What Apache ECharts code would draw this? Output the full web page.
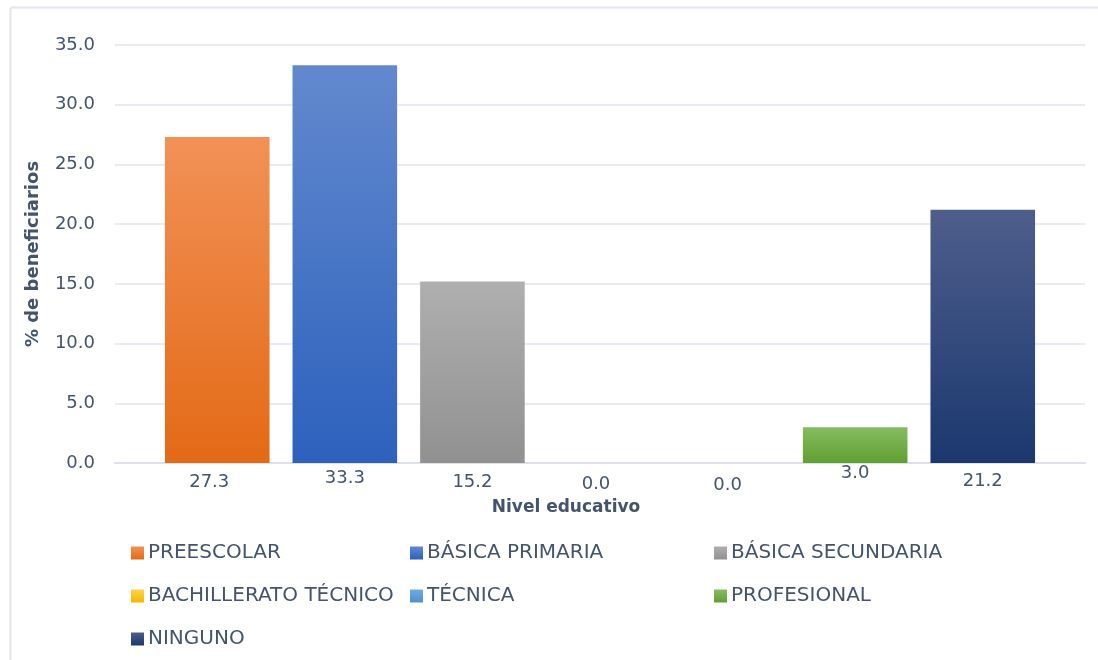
<!DOCTYPE html>
<html>
<head>
<meta charset="utf-8">
<script src="https://cdn.jsdelivr.net/npm/echarts@6/dist/echarts.min.js"></script>
<style>
  html, body { margin: 0; padding: 0; background: #fff; }
  #chart { width: 1098px; height: 660px; }
</style>
</head>
<body>
<div id="chart"></div>
<script>
// niveles educativos y porcentaje de beneficiarios
const niveles = ["PREESCOLAR", "BÁSICA PRIMARIA", "BÁSICA SECUNDARIA", "BACHILLERATO TÉCNICO", "TÉCNICA", "PROFESIONAL", "NINGUNO"];
const valores = [27.3, 33.3, 15.2, 0.0, 0.0, 3.0, 21.2];
const yTicks = [0, 5, 10, 15, 20, 25, 30, 35];

// degradados (arriba, abajo) de cada barra
const colores = [
  ["#F29157", "#E36A16"],
  ["#6289CE", "#2D61BD"],
  ["#AFAFAF", "#919191"],
  ["#FFD34A", "#F5B800"],
  ["#72AAE0", "#4F90CF"],
  ["#86BC62", "#60A030"],
  ["#4E5E8C", "#1B386E"]
];
// desplazamiento de la etiqueta bajo la base
const labelDist = [10, 6, 10, 12, 13, 1, 9];
const labelDx = [-8, 0, 0, -4, 0, 0, 0];

const textColor = "#44546A";
const font = "'DejaVu Sans', sans-serif";

const chart = echarts.init(document.getElementById("chart"));

const series = niveles.map((name, i) => ({
  name: name,
  type: "bar",
  data: [valores[i]],
  barGap: "22%",
  barCategoryGap: "10.3%",
  itemStyle: {
    color: {
      type: "linear", x: 0, y: 0, x2: 0, y2: 1,
      colorStops: [
        { offset: 0, color: colores[i][0] },
        { offset: 1, color: colores[i][1] }
      ]
    }
  },
  label: {
    show: true,
    position: "bottom",
    distance: labelDist[i],
    offset: [labelDx[i], 0],
    color: textColor,
    fontSize: 18,
    fontFamily: font,
    formatter: p => p.value.toFixed(1)
  }
}));

const legendBase = {
  orient: "vertical",
  top: 538,
  height: 200,
  icon: "rect",
  itemWidth: 13,
  itemHeight: 13,
  itemGap: 23,
  textStyle: { color: textColor, fontSize: 20, fontFamily: font, padding: [0, 0, 0, -1] }
};

const option = {
  animation: false,
  backgroundColor: "#fff",
  grid: { left: 115, right: 13, top: 45, bottom: 197 },
  xAxis: {
    type: "category",
    data: ["Nivel educativo"],
    name: "Nivel educativo",
    nameLocation: "middle",
    nameGap: 36,
    nameTextStyle: { color: textColor, fontSize: 17, fontWeight: "bold", fontFamily: font, padding: [0, 68, 0, 0] },
    axisLine: { show: true, lineStyle: { color: "#DDE2EA", width: 2 } },
    axisTick: { show: false },
    axisLabel: { show: false }
  },
  yAxis: {
    type: "value",
    min: yTicks[0],
    max: yTicks[yTicks.length - 1],
    interval: 5,
    name: "% de beneficiarios",
    nameLocation: "middle",
    nameGap: 73,
    nameTextStyle: { color: textColor, fontSize: 18, fontWeight: "bold", fontFamily: font },
    axisLine: { show: false },
    axisTick: { show: false },
    axisLabel: { color: textColor, fontSize: 18, fontFamily: font, margin: 20, formatter: v => v.toFixed(1) },
    splitLine: { lineStyle: { color: "#E1E5EC", width: 1.5 } }
  },
  legend: [
    Object.assign({}, legendBase, { left: 126, data: [niveles[0], niveles[3], niveles[6]] }),
    Object.assign({}, legendBase, { left: 405, data: [niveles[1], niveles[4]] }),
    Object.assign({}, legendBase, { left: 709, data: [niveles[2], niveles[5]] })
  ],
  graphic: [{
    type: "rect",
    left: 8, top: 5,
    shape: { width: 1100, height: 670, r: 2 },
    style: { fill: null, stroke: "#E1E5EC", lineWidth: 2 },
    silent: true
  }],
  series: series
};

chart.setOption(option);
</script>
</body>
</html>
